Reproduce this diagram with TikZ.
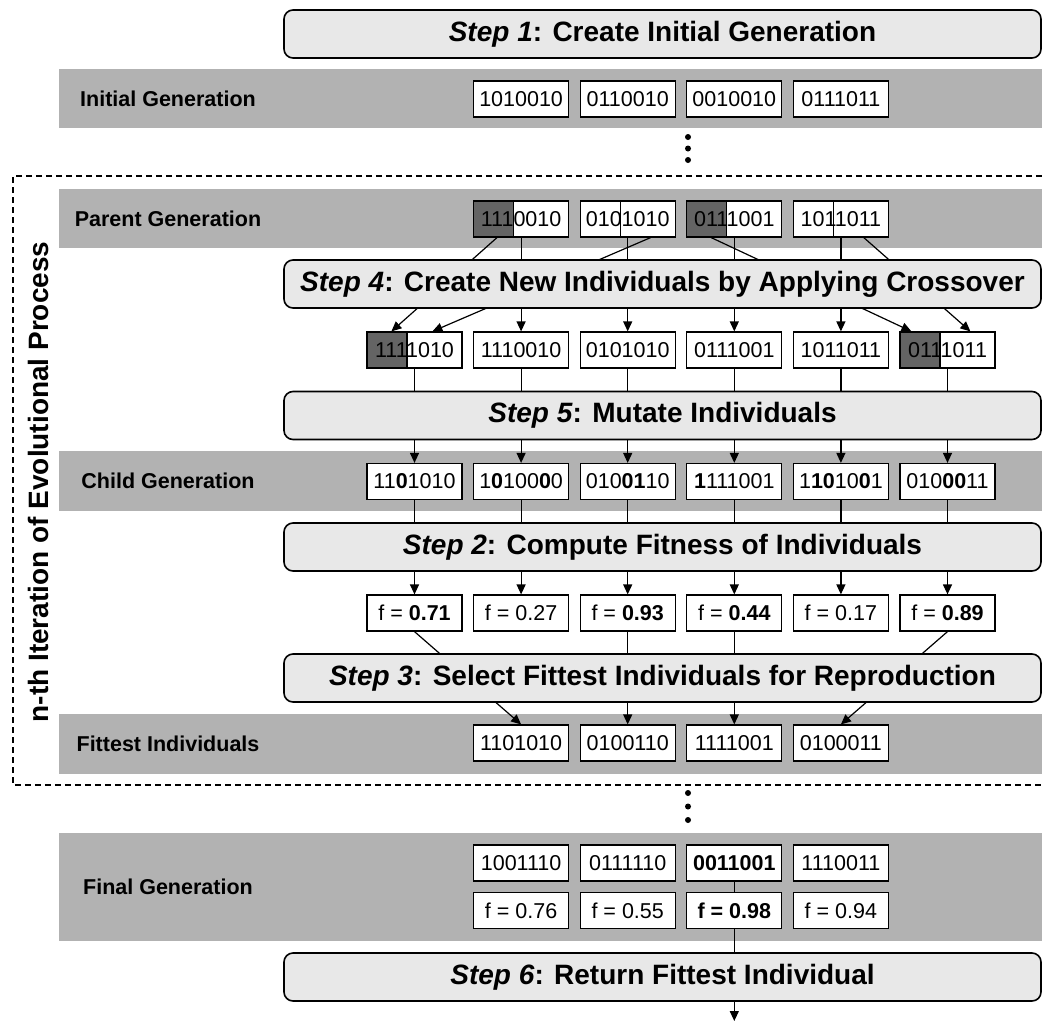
\documentclass[tikz,border=0pt]{standalone}
\usepackage{fontspec}
\setmainfont{Liberation Sans}
\usetikzlibrary{arrows.meta}

\definecolor{bandgray}{HTML}{B2B2B2}
\definecolor{stepfill}{HTML}{E8E8E8}
\definecolor{partdark}{HTML}{646464}

\newcommand{\stepfnt}{\fontsize{28}{32}\selectfont\bfseries}
\newcommand{\cellfnt}{\fontsize{21.5}{25}\selectfont}
\newcommand{\labfnt}{\fontsize{21.5}{25}\selectfont\bfseries}
\newcommand{\iterfnt}{\fontsize{28}{32}\selectfont\bfseries}

\pgfdeclarelayer{bands}
\pgfdeclarelayer{links}
\pgfsetlayers{bands,links,main}

\tikzset{
  band/.style={fill=bandgray, draw=none, minimum width=983pt, minimum height=59.5pt, inner sep=0pt},
  bandlabel/.style={font=\labfnt, inner sep=0pt},
  cell/.style={draw, fill=white, line width=1.2pt, minimum width=95pt, minimum height=36pt,
    inner sep=0pt, font=\cellfnt},
  cutcell/.style={cell, path picture={
      \draw[line width=1.2pt] ([xshift=40pt]path picture bounding box.north west)
        -- ([xshift=40pt]path picture bounding box.south west);}},
  cutdark/.style={cell, path picture={
      \fill[partdark] (path picture bounding box.north west)
        rectangle ([xshift=40pt]path picture bounding box.south west);
      \draw[line width=1.2pt] ([xshift=40pt]path picture bounding box.north west)
        -- ([xshift=40pt]path picture bounding box.south west);}},
  stepbox/.style={draw, fill=stepfill, line width=1.6pt, rounded corners=9pt,
    minimum width=757pt, minimum height=48pt, inner sep=0pt, font=\stepfnt},
  conn/.style={line width=1.2pt},
  arr/.style={conn, -{Triangle[length=10pt,width=9pt]}},
  dotmark/.style={circle, fill, inner sep=0pt, minimum size=6pt},
  frame/.style={dashed, dash pattern=on 6pt off 4pt, line width=1.2pt},
}

\begin{document}
\begin{tikzpicture}[x=1pt,y=-1pt]
\useasboundingbox (0,0) rectangle (1042,1023);

% column centres
\def\ca{414.5}\def\cb{521.1}\def\cc{627.7}\def\cd{734.3}\def\ce{840.9}\def\cf{947.5}

% ---------- grey generation bands ----------
\begin{pgfonlayer}{bands}
  \node[band] (bandInit)    at (550.5, 98.5) {};
  \node[band] (bandParent)  at (550.5,218.5) {};
  \node[band] (bandChild)   at (550.5,481)   {};
  \node[band] (bandFittest) at (550.5,744)   {};
  \node[band, minimum height=108pt] (bandFinal) at (550.5,887) {};
\end{pgfonlayer}

\node[bandlabel] (labInit)    at (168, 98.5) {Initial Generation};
\node[bandlabel] (labParent)  at (168,218.5) {Parent Generation};
\node[bandlabel] (labChild)   at (168,481)   {Child Generation};
\node[bandlabel] (labFittest) at (168,744)   {Fittest Individuals};
\node[bandlabel] (labFinal)   at (168,887)   {Final Generation};

% dashed frame of one iteration
\draw[frame] (1042,176) -| (13,785) -- (1042,785);
\node[rotate=90, font=\iterfnt, inner sep=0pt] (iter) at (38,482) {n-th Iteration of Evolutional Process};

% ---------- step boxes ----------
\node[stepbox] (st1) at (662.5, 34)   {\textit{Step 1}: Create Initial Generation};
\node[stepbox] (st4) at (662.5,284)   {\textit{Step 4}: Create New Individuals by Applying Crossover};
\node[stepbox] (st5) at (662.5,415.5) {\textit{Step 5}: Mutate Individuals};
\node[stepbox] (st2) at (662.5,547)   {\textit{Step 2}: Compute Fitness of Individuals};
\node[stepbox] (st3) at (662.5,678)   {\textit{Step 3}: Select Fittest Individuals for Reproduction};
\node[stepbox] (st6) at (662.5,977)   {\textit{Step 6}: Return Fittest Individual};

% ---------- initial generation ----------
\node[cell] (i1) at (\cb,99) {1010010};
\node[cell] (i2) at (\cc,99) {0110010};
\node[cell] (i3) at (\cd,99) {0010010};
\node[cell] (i4) at (\ce,99) {0111011};

\node[dotmark] (da1) at (688,137) {};
\node[dotmark] (da2) at (688,148.5) {};
\node[dotmark] (da3) at (688,160) {};

% ---------- parents ----------
\node[cutdark] (p1) at (\cb,219) {1110010};
\node[cutcell] (p2) at (\cc,219) {0101010};
\node[cutdark] (p3) at (\cd,219) {0111001};
\node[cutcell] (p4) at (\ce,219) {1011011};

% ---------- crossover results ----------
\node[cutdark] (x1) at (\ca,350) {1111010};
\node[cell]    (x2) at (\cb,350) {1110010};
\node[cell]    (x3) at (\cc,350) {0101010};
\node[cell]    (x4) at (\cd,350) {0111001};
\node[cell]    (x5) at (\ce,350) {1011011};
\node[cutdark] (x6) at (\cf,350) {0111011};

% ---------- mutated children ----------
\node[cell] (m1) at (\ca,481.5) {11\textbf{0}1010};
\node[cell] (m2) at (\cb,481.5) {1\textbf{0}100\textbf{0}0};
\node[cell] (m3) at (\cc,481.5) {010\textbf{01}10};
\node[cell] (m4) at (\cd,481.5) {\textbf{1}111001};
\node[cell] (m5) at (\ce,481.5) {1\textbf{10}10\textbf{0}1};
\node[cell] (m6) at (\cf,481.5) {010\textbf{00}11};

% ---------- fitness values ----------
\node[cell] (f1) at (\ca,613) {f = \textbf{0.71}};
\node[cell] (f2) at (\cb,613) {f = 0.27};
\node[cell] (f3) at (\cc,613) {f = \textbf{0.93}};
\node[cell] (f4) at (\cd,613) {f = \textbf{0.44}};
\node[cell] (f5) at (\ce,613) {f = 0.17};
\node[cell] (f6) at (\cf,613) {f = \textbf{0.89}};

% ---------- selected individuals ----------
\node[cell] (s1) at (\cb,743) {1101010};
\node[cell] (s2) at (\cc,743) {0100110};
\node[cell] (s3) at (\cd,743) {1111001};
\node[cell] (s4) at (\ce,743) {0100011};

\node[dotmark] (db1) at (688,793) {};
\node[dotmark] (db2) at (688,806.5) {};
\node[dotmark] (db3) at (688,820) {};

% ---------- final generation ----------
\node[cell] (g1) at (\cb,863) {1001110};
\node[cell] (g2) at (\cc,863) {0111110};
\node[cell] (g3) at (\cd,863) {\textbf{0011001}};
\node[cell] (g4) at (\ce,863) {1110011};
\node[cell] (h1) at (\cb,910.5) {f = 0.76};
\node[cell] (h2) at (\cc,910.5) {f = 0.55};
\node[cell] (h3) at (\cd,910.5) {\textbf{f = 0.98}};
\node[cell] (h4) at (\ce,910.5) {f = 0.94};

\coordinate (result) at (\cd,1021);

% ---------- connectors (run behind the step boxes) ----------
\begin{pgfonlayer}{links}
  % crossover
  \draw[arr] ([xshift=24pt]p1.south west) -- ([xshift=25pt]x1.north west);
  \draw[arr] ([xshift=71pt]p2.south west) -- ([xshift=66pt]x1.north west);
  \draw[arr] (p1.south) -- (x2.north);
  \draw[arr] (p2.south) -- (x3.north);
  \draw[arr] (p3.south) -- (x4.north);
  \draw[arr] (p4.south) -- (x5.north);
  \draw[arr] ([xshift=25pt]p3.south west) -- ([xshift=12pt]x6.north west);
  \draw[arr] ([xshift=71pt]p4.south west) -- ([xshift=71pt]x6.north west);
  % mutation and fitness evaluation
  \foreach \k in {1,...,6} {
    \draw[arr] (x\k.south) -- (m\k.north);
    \draw[arr] (m\k.south) -- (f\k.north);
  }
  % selection
  \draw[arr] (f1.south) -- (s1.north);
  \draw[arr] (f3.south) -- (s2.north);
  \draw[arr] (f4.south) -- (s3.north);
  \draw[arr] (f6.south) -- (s4.north);
  % result
  \draw[conn] (g3.south) -- (h3.north);
  \draw[arr] (h3.south) -- (result);
\end{pgfonlayer}

\end{tikzpicture}
\end{document}
